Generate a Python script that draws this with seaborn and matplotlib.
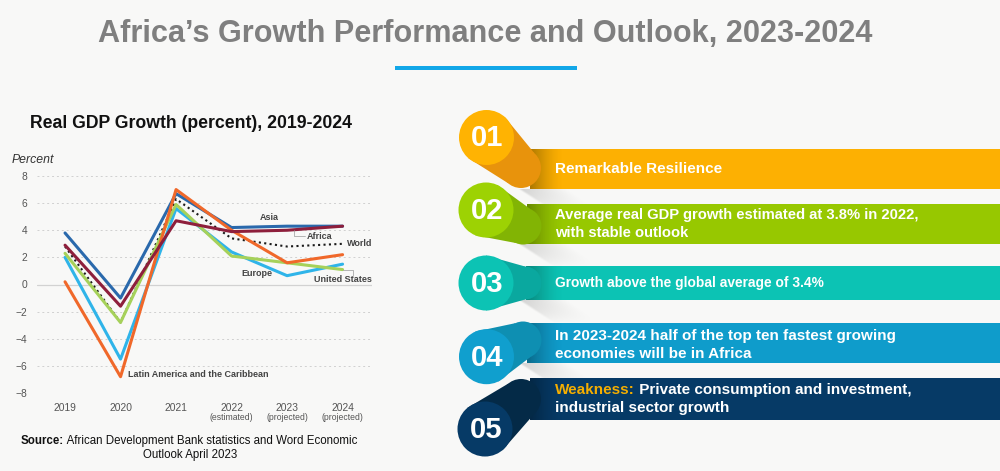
import matplotlib
matplotlib.use('Agg')
import matplotlib.pyplot as plt
import numpy as np
import pandas as pd
import seaborn as sns
from matplotlib.patches import Circle, Polygon, Rectangle
from matplotlib.transforms import blended_transform_factory

sns.set_theme(style='white')
plt.rcParams['font.family'] = ['Liberation Sans', 'DejaVu Sans']

BG = '#f8f8f7'
W, H = 1000, 471

# chart data
years = ['2019', '2020', '2021', '2022', '2023', '2024']
year_notes = ['', '', '', '(estimated)', '(projected)', '(projected)']
y_ticks = [-8, -6, -4, -2, 0, 2, 4, 6, 8]
world = [2.8, -2.8, 6.3, 3.4, 2.8, 3.0]
europe = [2.0, -5.5, 5.6, 2.4, 0.65, 1.5]
united_states = [2.3, -2.8, 5.9, 2.1, 1.6, 1.1]
asia = [3.8, -1.0, 6.7, 4.2, 4.3, 4.3]
latin_america = [0.2, -6.8, 7.0, 4.0, 1.6, 2.2]
africa = [2.9, -1.6, 4.7, 3.9, 4.0, 4.3]

# right hand panel
numbers = ['01', '02', '03', '04', '05']
messages = [
    'Remarkable Resilience',
    'Average real GDP growth estimated at 3.8% in 2022,\nwith stable outlook',
    'Growth above the global average of 3.4%',
    'In 2023-2024 half of the top ten fastest growing\neconomies will be in Africa',
    'Private consumption and investment,\nindustrial sector growth',
]
message_sizes = [11.0, 10.6, 9.95, 11.0, 11.0]
ribbon_colors = ['#fdb002', '#97c800', '#0cc3b4', '#0f9ccb', '#063a66']
capsule_colors = ['#e8930c', '#82b404', '#0aa89f', '#0e8fb2', '#042a47']
circle_colors = ['#ffb302', '#9dd203', '#0cc3b4', '#109fce', '#063a66']


def px_axes(fig, left, top, right, bottom, **kw):
    return fig.add_axes([left / W, 1 - bottom / H, (right - left) / W, (bottom - top) / H], **kw)


def shade(ax, left, top, right, bottom, alpha, zorder):
    # black image with the given alpha array, stretched over a pixel box
    img = np.zeros(alpha.shape + (4,))
    img[..., 3] = alpha
    ax.imshow(img, extent=(left, right, bottom, top), aspect='auto', zorder=zorder, interpolation='bilinear')


fig = plt.figure(figsize=(10, 4.71), dpi=100, facecolor=BG)

# overlay in pixel coordinates for the infographic parts
bg = px_axes(fig, 0, 0, W, H)

bg.text(485, 34, 'Africa\u2019s Growth Performance and Outlook, 2023-2024', ha='center', va='center',
        fontsize=22.1, fontweight='bold', color='#7f7f7f')
bg.add_patch(Rectangle((395, 66), 182, 4, color='#12a7e8', lw=0))
bg.text(191, 124, 'Real GDP Growth (percent), 2019-2024', ha='center', va='center',
        fontsize=12.7, fontweight='bold', color='#111111')
src = bg.text(21, 441, 'Source:', ha='left', va='center', fontsize=8.3, fontweight='bold', color='#111111')
bg.annotate(' African Development Bank statistics and Word Economic', xy=(1, 0), xycoords=src,
            va='bottom', ha='left', fontsize=8.3, color='#111111')
bg.text(190, 455, 'Outlook April 2023', ha='center', va='center', fontsize=8.3, color='#111111')

circle_xy = [(486.5, 137.5), (486, 210), (486, 283), (486.5, 356.7), (485, 429)]
capsule_xy = [(521, 168), (523, 226), (525, 283), (523, 340), (521, 399)]
capsule_r = [20, 18.5, 16.5, 18.5, 20]
ribbon_y = [(149, 189), (204, 244), (266, 300), (323, 363), (378, 420)]
ribbon_left = [530, 527, 526, 527, 530]
text_y = [169, 224, 283, 345, 399]
r_big = 27.5

for i in range(5):
    top, bottom = ribbon_y[i]
    # soft wedge of shadow under the ribbon start
    if i < 4:
        Y, X = np.mgrid[0:24:48j, 0:90:180j]
        edge = X - Y * 1.5
        a = np.clip(edge / 4, 0, 1) * np.clip(1 - edge / 50, 0, 1) * (1 - Y / 24)
        shade(bg, 518, bottom, 608, bottom + 24, a * 0.16, 1)
    left = ribbon_left[i]
    bg.add_patch(Rectangle((left, top), W - left, bottom - top, color=ribbon_colors[i], lw=0, zorder=2))
    # shade next to the capsule
    a = (1 - np.linspace(0, 1, 60))[None, :].repeat(4, axis=0) ** 1.5
    shade(bg, left, top, 564, bottom, a * 0.32, 2.1)
    cx, cy = circle_xy[i]
    ex, ey = capsule_xy[i]
    r_end = capsule_r[i]
    d = np.array([ex - cx, ey - cy])
    n = np.array([-d[1], d[0]]) / np.hypot(*d)
    pts = [np.array([cx, cy]) + n * r_big, np.array([ex, ey]) + n * r_end,
           np.array([ex, ey]) - n * r_end, np.array([cx, cy]) - n * r_big]
    bg.add_patch(Polygon(pts, color=capsule_colors[i], lw=0, zorder=3))
    bg.add_patch(Circle((ex, ey), r_end, color=capsule_colors[i], lw=0, zorder=3))
    bg.add_patch(Circle((cx, cy), r_big, color=circle_colors[i], lw=0, zorder=4))
    bg.text(cx + 1, cy + 1, numbers[i], ha='center', va='center', fontsize=21, fontweight='bold',
            color='white', zorder=5)
    if i == 4:
        weak = bg.text(555, 390, 'Weakness:', ha='left', va='center', fontsize=message_sizes[i], fontweight='bold',
                       color='#f5ae00', zorder=5)
        first, second = messages[i].split('\n')
        bg.annotate(' ' + first, xy=(1, 0), xycoords=weak, va='bottom', ha='left', fontsize=message_sizes[i],
                    fontweight='bold', color='white', zorder=5)
        bg.text(555, 408, second, ha='left', va='center', fontsize=message_sizes[i], fontweight='bold',
                color='white', zorder=5)
    else:
        bg.text(555, text_y[i], messages[i], ha='left', va='center', fontsize=message_sizes[i], fontweight='bold',
                color='white', linespacing=1.32, zorder=5)

bg.set_xlim(0, W)
bg.set_ylim(H, 0)
bg.axis('off')

# line chart
ax = px_axes(fig, 37, 176, 372, 393)
ax.patch.set_alpha(0)
pos = np.arange(len(years))
series = {'World': world, 'Europe': europe, 'United States': united_states, 'Asia': asia,
          'Latin America and the Caribbean': latin_america, 'Africa': africa}
df = pd.DataFrame([{'pos': p, 'value': v, 'region': name}
                   for name, vals in series.items() for p, v in zip(pos, vals)])
palette = {'World': '#1a1a1a', 'Europe': '#2fb4e9', 'United States': '#a6d15a', 'Asia': '#2a69ac',
           'Latin America and the Caribbean': '#f0682a', 'Africa': '#8e1f3c'}

for v in y_ticks:
    if v == 0:
        ax.axhline(v, color='#d2d2d2', lw=0.9, zorder=0)
    else:
        ax.axhline(v, color='#d0d0d0', lw=0.7, ls=(0, (2, 3)), zorder=0)

solid = df[df.region != 'World']
sns.lineplot(data=df[df.region == 'World'], x='pos', y='value', color=palette['World'], lw=1.5,
             ls=(0, (1, 1.6)), ax=ax, zorder=2.2, errorbar=None)
sns.lineplot(data=solid, x='pos', y='value', hue='region', palette=palette, lw=2.2, ax=ax, legend=False,
             errorbar=None, zorder=2.5,
             hue_order=['Europe', 'United States', 'Asia', 'Latin America and the Caribbean', 'Africa'])

ax.set_xlim(-0.505, 5.53)
ax.set_ylim(-8, 8)
ax.set_xticks(pos)
ax.set_xticklabels(years)
ax.set_yticks(y_ticks)
ax.set_yticklabels([str(v).replace('-', '\u2212') for v in y_ticks])
ax.tick_params(axis='both', length=0, labelsize=7.4, labelcolor='#555555')
ax.tick_params(axis='y', pad=7)
ax.tick_params(axis='x', pad=7)
ax.set_xlabel('')
ax.set_ylabel('')
sns.despine(ax=ax, left=True, bottom=True)

tr = blended_transform_factory(ax.transData, ax.transAxes)
for p, note in zip(pos, year_notes):
    if note:
        ax.text(p, -0.111, note, transform=tr, ha='center', va='center', fontsize=6.2, color='#555555')

bg.text(12, 160, 'Percent', ha='left', va='center', fontsize=8.8, style='italic', color='#333333')

lab = dict(ha='left', va='center', fontsize=6.5, fontweight='bold', color='#444444', zorder=6)
ax.text(1.14, -6.6, 'Latin America and the Caribbean', **lab)
ax.text(3.5, 4.95, 'Asia', **lab)
ax.text(4.36, 3.55, 'Africa', **lab)
ax.text(5.08, 3.05, 'World', **lab)
ax.text(3.18, 0.78, 'Europe', **lab)
ax.text(4.48, 0.4, 'United States', **lab)
# leader lines
ax.plot([4.12, 4.12, 4.32], [4.05, 3.6, 3.6], color='#999999', lw=0.5, zorder=6)
ax.plot([5.0, 5.18, 5.18], [1.1, 1.1, 0.65], color='#999999', lw=0.5, zorder=6)

fig.savefig('out.png', dpi=100, facecolor=BG)
